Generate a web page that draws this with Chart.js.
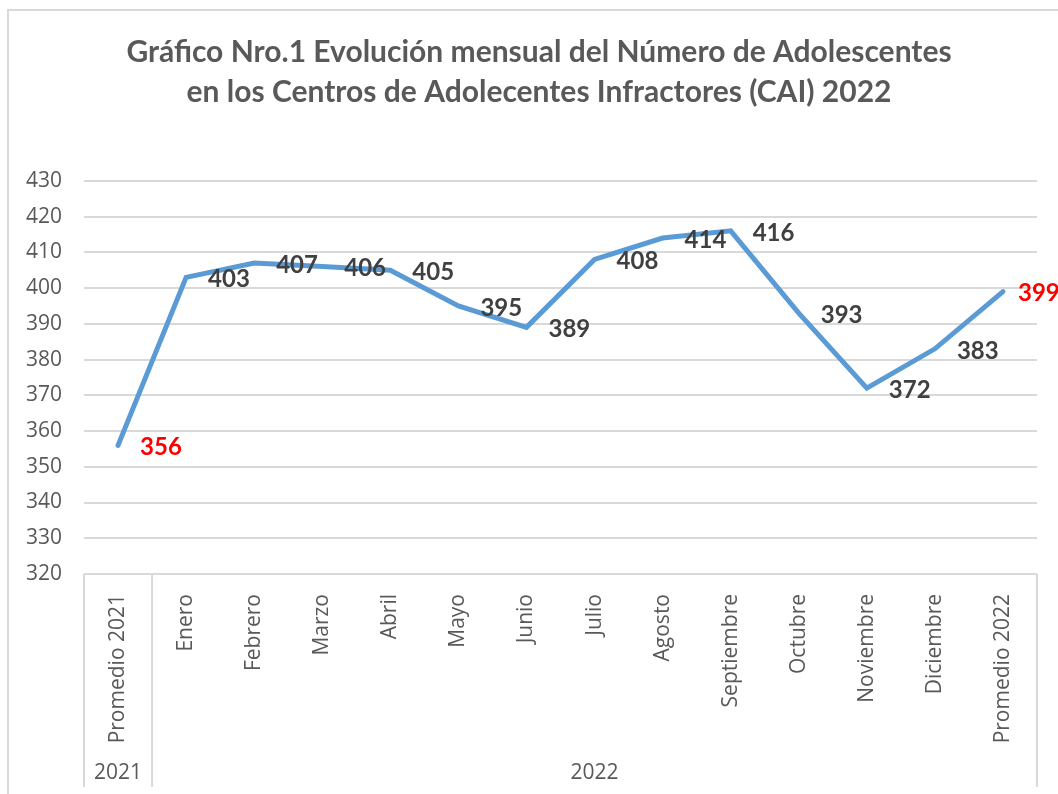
<!DOCTYPE html>
<html>
<head>
<meta charset="utf-8">
<script src="https://cdn.jsdelivr.net/npm/chart.js@4"></script>
<style>
  html, body { margin: 0; padding: 0; background: #fff; overflow: hidden; }
  #wrap { position: absolute; left: 7px; top: 9px; width: 1060px; height: 785px; border: 2px solid #d9d9d9; }
</style>
</head>
<body>
<div id="wrap"><canvas id="lineChart" width="1060" height="785"></canvas></div>
<script>
// categorias del eje X
const labels = [
    "Promedio 2021",
    "Enero",
    "Febrero",
    "Marzo",
    "Abril",
    "Mayo",
    "Junio",
    "Julio",
    "Agosto",
    "Septiembre",
    "Octubre",
    "Noviembre",
    "Diciembre",
    "Promedio 2022",
];
// numero de adolescentes
const adolescentes = [356, 403, 407, 406, 405, 395, 389, 408, 414, 416, 393, 372, 383, 399];
// segundo nivel del eje (años) y cuantas categorias abarca cada uno
const grupos = ["2021", "2022"];
const grupoTam = [1, 13];

const gris = "#595959";
const fuente = "'Open Sans'";

// etiquetas de datos a la derecha de cada punto
const etiquetas = {
    id: "etiquetas",
    afterDatasetsDraw(chart) {
        const ctx = chart.ctx;
        const meta = chart.getDatasetMeta(0);
        const last = meta.data.length - 1;
        ctx.save();
        ctx.font = "bold 24px Lato";
        ctx.textAlign = "left";
        ctx.textBaseline = "middle";
        meta.data.forEach((pt, i) => {
            ctx.fillStyle = (i === 0 || i === last) ? "#FF0000" : "#404040";
            const dx = i === last ? 15 : 22;
            ctx.fillText(String(adolescentes[i]), pt.x + dx, pt.y + 2);
        });
        ctx.restore();
    }
};

// eje de dos niveles: lineas separadoras y años
const ejeAnios = {
    id: "ejeAnios",
    afterDraw(chart) {
        const ctx = chart.ctx;
        const x = chart.scales.x;
        const half = (x.getPixelForValue(1) - x.getPixelForValue(0)) / 2;
        const top = chart.chartArea.bottom;
        const bottom = x.bottom;
        ctx.save();
        ctx.strokeStyle = "#d9d9d9";
        ctx.lineWidth = 2;
        ctx.fillStyle = gris;
        ctx.font = "21px " + fuente;
        ctx.textAlign = "center";
        ctx.textBaseline = "middle";
        let start = 0;
        const line = (px) => {
            ctx.beginPath();
            ctx.moveTo(px, top);
            ctx.lineTo(px, bottom);
            ctx.stroke();
        };
        line(x.getPixelForValue(0) - half);
        grupos.forEach((g, k) => {
            const end = start + grupoTam[k] - 1;
            const left = x.getPixelForValue(start) - half;
            const right = x.getPixelForValue(end) + half;
            line(right);
            ctx.fillText(g, (left + right) / 2, bottom - 14);
            start = end + 1;
        });
        ctx.restore();
    }
};

function dibujar() {
    new Chart(document.getElementById("lineChart"), {
        type: "line",
        data: {
            labels: labels,
            datasets: [
                {
                    label: "Adolescentes",
                    data: adolescentes,
                    borderColor: "#5B9BD5",
                    borderWidth: 5,
                    pointRadius: 0,
                    tension: 0,
                    borderCapStyle: "round",
                }
            ]
        },
        options: {
            responsive: false,
            animation: false,
            layout: { padding: { left: 0, right: 0, top: 0, bottom: 9 } },
            plugins: {
                legend: { display: false },
                tooltip: { enabled: false },
                title: {
                    display: true,
                    text: ["Gráfico Nro.1 Evolución mensual del Número de Adolescentes",
                           "en los Centros de Adolecentes Infractores (CAI) 2022"],
                    color: gris,
                    font: { family: "Lato", size: 30, weight: "bold", lineHeight: 1.33 },
                    padding: { top: 21, bottom: 69 }
                }
            },
            scales: {
                x: {
                    offset: true,
                    grid: { display: false },
                    border: { display: false },
                    ticks: {
                        color: gris,
                        font: { family: fuente, size: 21 },
                        minRotation: 90,
                        maxRotation: 90,
                        padding: 12,
                        autoSkip: false
                    },
                    afterFit: (s) => { s.height = 213; }
                },
                y: {
                    min: 320,
                    max: 430,
                    grid: { color: "#d9d9d9", lineWidth: 2, drawTicks: false },
                    border: { display: false },
                    ticks: {
                        stepSize: 10,
                        color: gris,
                        font: { family: fuente, size: 21 },
                        padding: 22
                    },
                    afterFit: (s) => { s.width = 75; }
                },
                // margen derecho vacio
                margen: {
                    position: "right",
                    grid: { display: false },
                    border: { display: false },
                    ticks: { display: false },
                    afterFit: (s) => { s.width = 32; }
                }
            }
        },
        plugins: [etiquetas, ejeAnios]
    });
}

Promise.all([
    document.fonts.load("21px 'Open Sans'"),
    document.fonts.load("bold 30px Lato")
]).then(dibujar, dibujar);
</script>
</body>
</html>
